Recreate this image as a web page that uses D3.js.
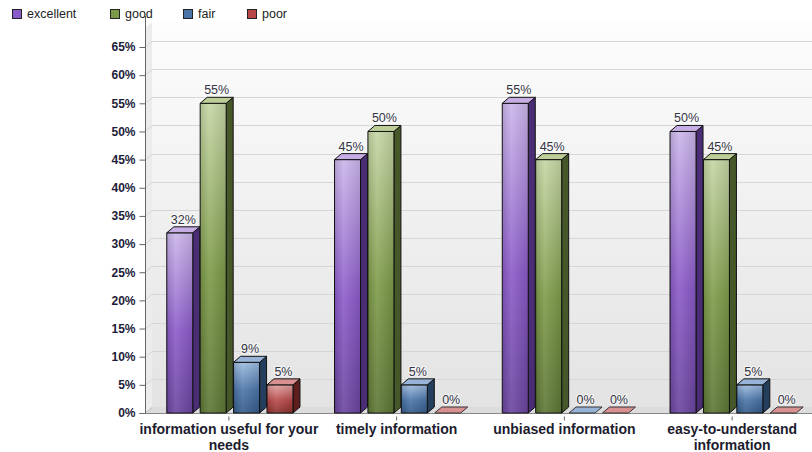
<!DOCTYPE html>
<html>
<head>
<meta charset="utf-8">
<script src="https://cdn.jsdelivr.net/npm/d3@7"></script>
<style>
  html, body { margin: 0; padding: 0; background: #ffffff; }
  svg { display: block; font-family: Arial, "Liberation Sans", sans-serif; }
</style>
</head>
<body>
<svg id="chart" width="812" height="452"></svg>
<script>
// Survey ratings per topic (percent of respondents)
const categories = [
  "information useful for your needs",
  "timely information",
  "unbiased information",
  "easy-to-understand information"
];
const seriesNames = ["excellent", "good", "fair", "poor"];
const excellent = [32, 45, 55, 50];
const good      = [55, 50, 45, 45];
const fair      = [9, 5, 0, 5];
const poor      = [5, 0, 0, 0];
const yTicks = [0, 5, 10, 15, 20, 25, 30, 35, 40, 45, 50, 55, 60, 65];

const seriesValues = [excellent, good, fair, poor];

// Colour sets per series: front gradient stops, top face, side face
const palette = {
  excellent: { light: "#cbb5ea", mid: "#8a5ac8", dark: "#6a449e", top: "#c6aee4", side: "#4a2d74", key: "#8a5ac8" },
  good:      { light: "#c6d6a4", mid: "#7c9a48", dark: "#5c7634", top: "#bccd98", side: "#46582a", key: "#7c9a48" },
  fair:      { light: "#9dbbdf", mid: "#4a74a8", dark: "#345a88", top: "#97b4d8", side: "#243e5e", key: "#4a74a8" },
  poor:      { light: "#e2a2a2", mid: "#b84848", dark: "#8a2e2e", top: "#d99090", side: "#5e1e1e", key: "#b84848" }
};

const svg = d3.select("#chart");
const W = 812, H = 452;

// Plot frame and 3D depth offset
const left = 145, right = 816, bottom = 413, wallTop = 22;
const depthX = 7, depthY = -6;

const y = d3.scaleLinear().domain([0, 65]).range([bottom, 47]);
const x = d3.scaleBand().domain(categories).range([left, right]).padding(0);
const groupWidth = 126.2;
const xs = d3.scaleBand().domain(seriesNames).range([0, groupWidth]).paddingInner(0.2216).paddingOuter(0);

const defs = svg.append("defs");

const wallGrad = defs.append("linearGradient").attr("id", "wall")
  .attr("x1", 0).attr("y1", 0).attr("x2", 0).attr("y2", 1);
wallGrad.append("stop").attr("offset", 0).attr("stop-color", "#fdfdfd");
wallGrad.append("stop").attr("offset", 1).attr("stop-color", "#e3e3e3");

seriesNames.forEach(s => {
  const p = palette[s];
  const g = defs.append("linearGradient").attr("id", "front-" + s)
    .attr("x1", 0).attr("y1", 0).attr("x2", 0).attr("y2", 1);
  g.append("stop").attr("offset", 0).attr("stop-color", p.light);
  g.append("stop").attr("offset", 0.55).attr("stop-color", p.mid);
  g.append("stop").attr("offset", 1).attr("stop-color", p.dark);
  const h = defs.append("linearGradient").attr("id", "sheen-" + s)
    .attr("x1", 0).attr("y1", 0).attr("x2", 1).attr("y2", 0);
  h.append("stop").attr("offset", 0).attr("stop-color", "#000").attr("stop-opacity", 0.12);
  h.append("stop").attr("offset", 0.35).attr("stop-color", "#fff").attr("stop-opacity", 0.10);
  h.append("stop").attr("offset", 1).attr("stop-color", "#000").attr("stop-opacity", 0.10);
});

// Back wall, left wall and floor
svg.append("rect")
  .attr("x", left + depthX).attr("y", wallTop)
  .attr("width", W - left - depthX).attr("height", bottom + depthY - wallTop)
  .attr("fill", "url(#wall)");
svg.append("polygon")
  .attr("points", [[left, bottom], [left + depthX, bottom + depthY], [left + depthX, wallTop], [left, wallTop + 6]].join(" "))
  .attr("fill", "#ececec");
svg.append("polygon")
  .attr("points", [[left, bottom], [left + depthX, bottom + depthY], [W, bottom + depthY], [W, bottom]].join(" "))
  .attr("fill", "#dcdcdc");

// Gridlines on the walls
const grid = svg.append("g").attr("fill", "none").attr("stroke", "#d6d6d6").attr("stroke-width", 1);
yTicks.filter(t => t > 0).forEach(t => {
  const yy = Math.round(y(t)) + 0.5;
  grid.append("polyline")
    .attr("points", [[left, yy], [left + depthX, yy + depthY], [W, yy + depthY]].join(" "));
});
svg.append("line")
  .attr("x1", left).attr("y1", bottom + 0.5).attr("x2", left + depthX).attr("y2", bottom + depthY + 0.5)
  .attr("stroke", "#bcbcbc");

// Y axis
const yAxis = d3.axisLeft(y).tickValues(yTicks).tickFormat(d => d + "%").tickSize(6).tickPadding(4);
const yg = svg.append("g").attr("transform", `translate(${left + 0.5},0)`).call(yAxis);
yg.select(".domain").attr("d", `M-6,${bottom + 0.5}H0V16`).attr("stroke", "#666");
yg.selectAll(".tick line").attr("stroke", "#666");
yg.selectAll(".tick text")
  .attr("fill", "#1c1c3a").attr("font-size", 12).attr("font-weight", "bold")
  .attr("font-family", "Arial, 'Liberation Sans', sans-serif");

// Baseline
svg.append("line")
  .attr("x1", left).attr("x2", W).attr("y1", bottom + 0.5).attr("y2", bottom + 0.5)
  .attr("stroke", "#888");

// X axis with wrapped category labels
const xAxis = d3.axisBottom(x).tickSize(5).tickPadding(6);
const xg = svg.append("g").attr("transform", `translate(0,${bottom + 0.5})`).call(xAxis);
xg.select(".domain").remove();
xg.selectAll(".tick line").attr("stroke", "#666").attr("transform", "translate(0,3)").attr("y2", 4);
xg.selectAll(".tick text")
  .attr("fill", "#1c1c2e").attr("font-size", 14).attr("font-weight", "bold")
  .attr("font-family", "Arial, 'Liberation Sans', sans-serif")
  .attr("y", 11)
  .call(wrap, 192);

function wrap(sel, width) {
  sel.each(function() {
    const text = d3.select(this);
    const words = text.text().split(/\s+/);
    const yAttr = +text.attr("y");
    text.text(null);
    let line = [];
    let lineNo = 0;
    let tspan = text.append("tspan").attr("x", 0).attr("y", yAttr).attr("dy", "0.71em");
    words.forEach(w => {
      line.push(w);
      tspan.text(line.join(" "));
      if (tspan.node().getComputedTextLength() > width && line.length > 1) {
        line.pop();
        tspan.text(line.join(" "));
        line = [w];
        lineNo++;
        tspan = text.append("tspan").attr("x", 0).attr("y", yAttr + lineNo * 15.5).attr("dy", "0.71em").text(w);
      }
    });
  });
}

// Bars
const bw = xs.bandwidth();
const bars = svg.append("g");
categories.forEach((cat, ci) => {
  const gx = x(cat) + x.bandwidth() / 2 - groupWidth / 2 + 1;
  seriesNames.forEach((s, si) => {
    const v = seriesValues[si][ci];
    const p = palette[s];
    const x0 = gx + xs(s);
    const x1 = x0 + bw;
    const yTop = y(v);
    const g = bars.append("g").attr("stroke", "#111").attr("stroke-width", 1).attr("stroke-linejoin", "round");
    if (v > 0) {
      // side face
      g.append("polygon")
        .attr("points", [[x1, yTop], [x1 + depthX, yTop + depthY], [x1 + depthX, bottom + depthY], [x1, bottom]].join(" "))
        .attr("fill", p.side);
      // front face
      g.append("rect").attr("x", x0).attr("y", yTop).attr("width", bw).attr("height", bottom - yTop)
        .attr("fill", `url(#front-${s})`);
      g.append("rect").attr("x", x0).attr("y", yTop).attr("width", bw).attr("height", bottom - yTop)
        .attr("fill", `url(#sheen-${s})`).attr("stroke", "none");
    }
    // top face
    g.append("polygon")
      .attr("points", [[x0, yTop], [x1, yTop], [x1 + depthX, yTop + depthY], [x0 + depthX, yTop + depthY]].join(" "))
      .attr("fill", p.top)
      .attr("stroke", v > 0 ? "#111" : "#333");
    // value label
    bars.append("text")
      .attr("x", (x0 + x1) / 2 + depthX / 2)
      .attr("y", yTop + depthY - 3)
      .attr("text-anchor", "middle")
      .attr("font-size", 12.5)
      .attr("fill", "#333344")
      .attr("stroke", "#ffffff").attr("stroke-width", 2).attr("stroke-opacity", 0.6)
      .attr("paint-order", "stroke")
      .text(v + "%");
  });
});

// Legend
const legendX = [12, 110, 183, 247];
const legend = svg.append("g");
seriesNames.forEach((s, i) => {
  legend.append("rect")
    .attr("x", legendX[i] + 0.5).attr("y", 9.5).attr("width", 9).attr("height", 9)
    .attr("fill", palette[s].key).attr("stroke", "#222");
  legend.append("text")
    .attr("x", legendX[i] + 15).attr("y", 18)
    .attr("font-size", 12.5).attr("fill", "#222")
    .text(s);
});
</script>
</body>
</html>
